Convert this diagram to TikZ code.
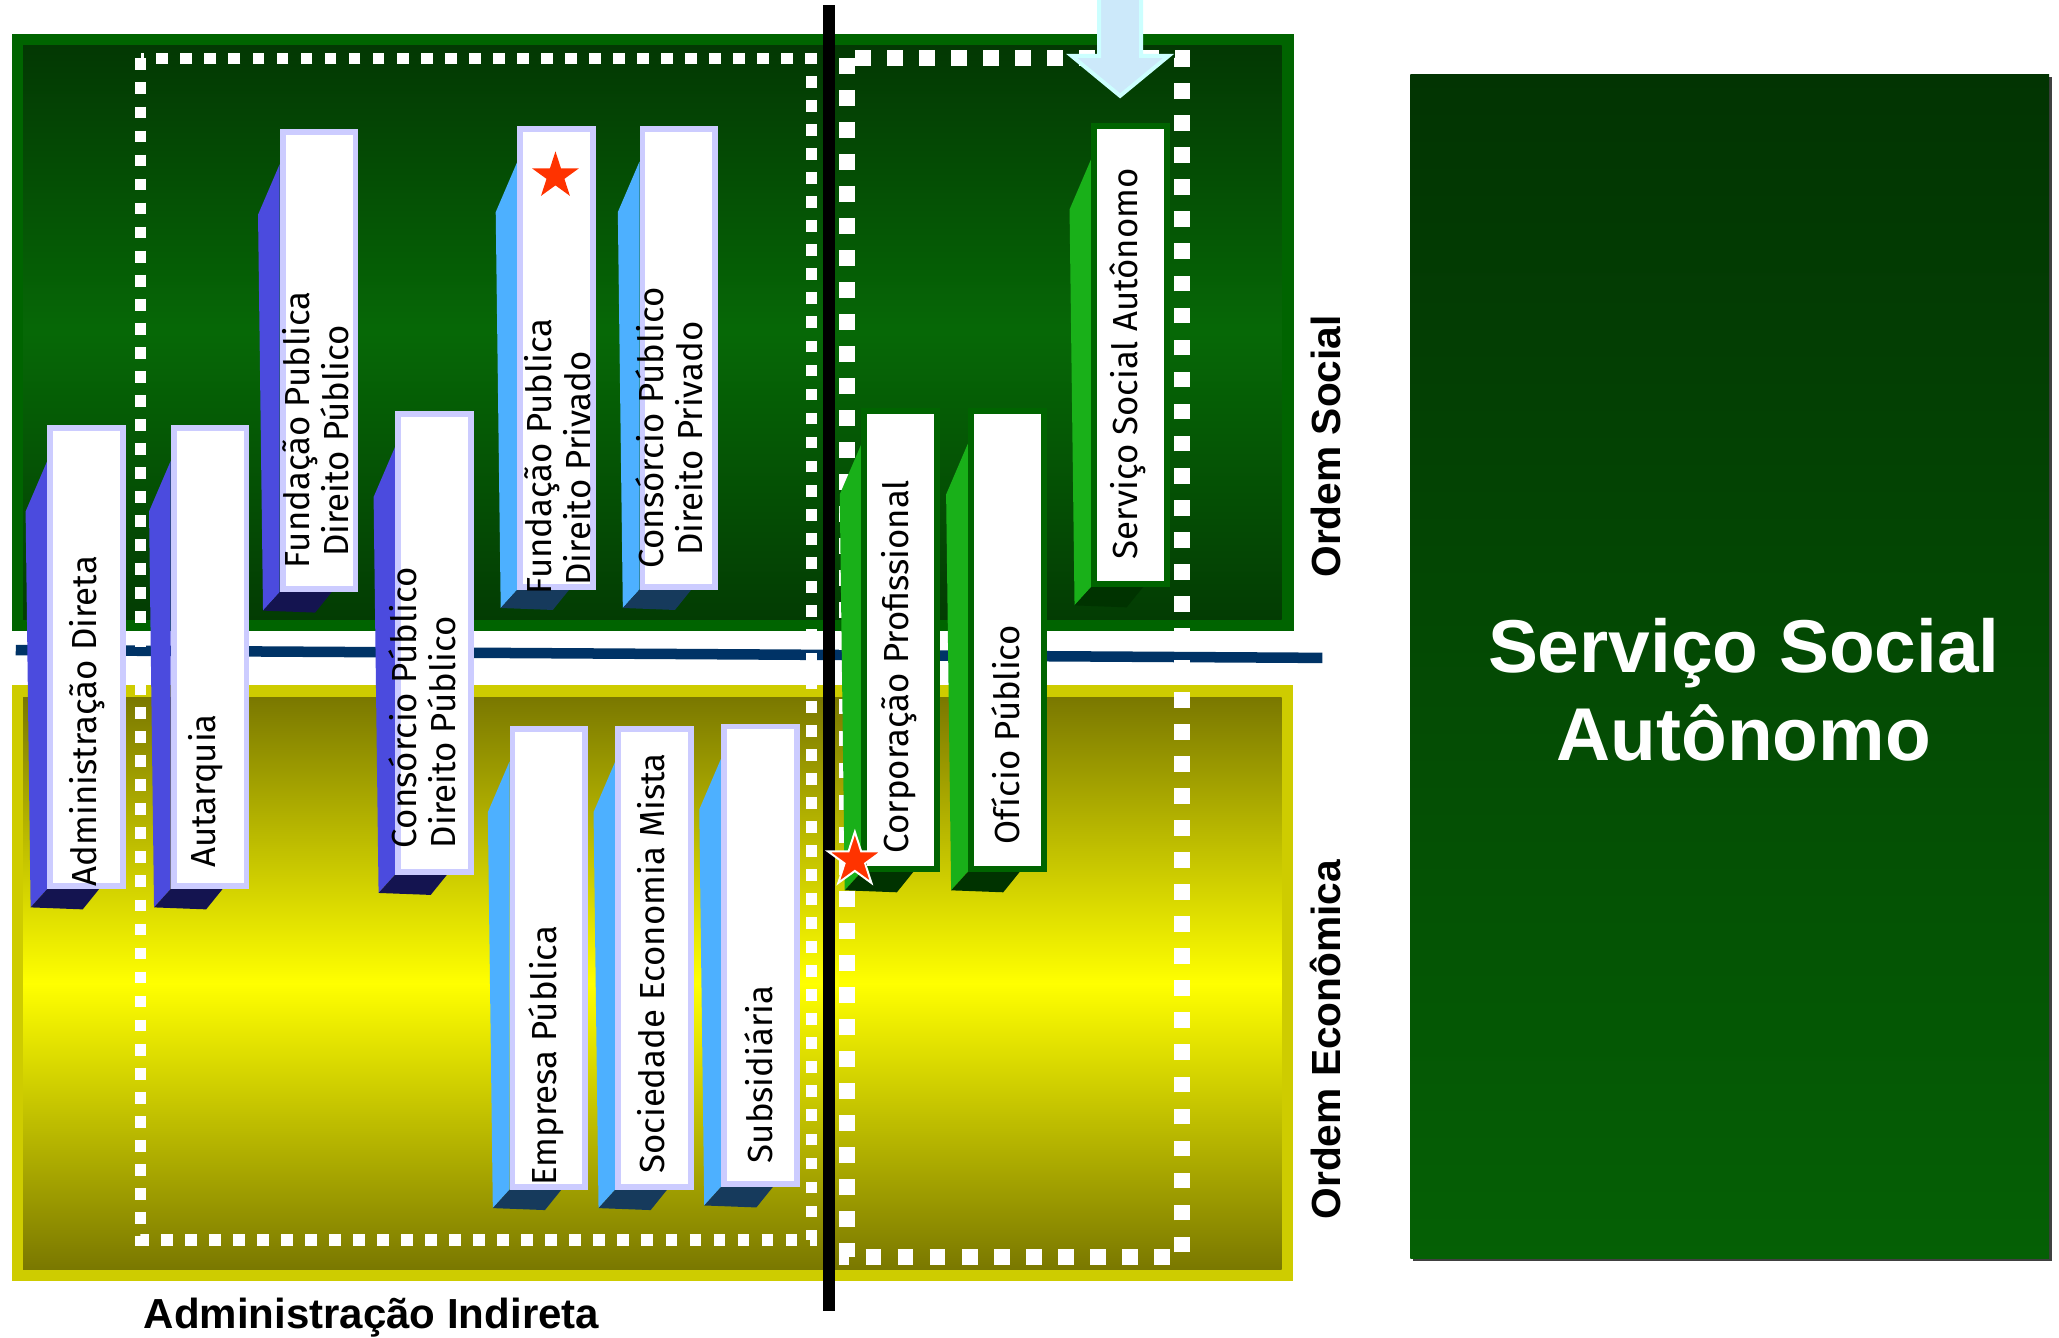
\documentclass[tikz,border=0pt]{standalone}
\usepackage{fontspec}
\usetikzlibrary{shapes.geometric}
\newfontfamily\barfont{Fira Sans}
\newfontfamily\labfont{Liberation Sans}
\definecolor{gborder}{RGB}{0,100,0}
\definecolor{gtop}{RGB}{3,56,3}
\definecolor{gmid}{RGB}{6,104,6}
\definecolor{gbot}{RGB}{3,60,3}
\definecolor{yborder}{RGB}{206,204,0}
\definecolor{yedge}{RGB}{122,120,0}
\definecolor{ymid}{RGB}{255,255,0}
\definecolor{navyline}{RGB}{0,51,102}
\definecolor{lav}{RGB}{204,204,255}
\definecolor{sideblue}{RGB}{75,75,222}
\definecolor{botblue}{RGB}{20,20,80}
\definecolor{sidesky}{RGB}{77,176,255}
\definecolor{botsky}{RGB}{22,58,92}
\definecolor{sidegreen}{RGB}{25,176,25}
\definecolor{botgreen}{RGB}{0,51,0}
\definecolor{starred}{RGB}{255,51,0}
\definecolor{arrowfill}{RGB}{204,233,250}
\definecolor{arrowline}{RGB}{204,255,255}
\definecolor{ssatop}{RGB}{2,52,2}
\definecolor{ssabot}{RGB}{5,96,5}
\tikzset{
  colbox/.style={rectangle, fill=white, line width=4.5, minimum width=55.5, minimum height=348.5, inner sep=0},
  bartext/.style={rotate=90, inner sep=0, anchor=west, align=left, font=\barfont\fontsize{26.5}{29.5}\selectfont},
  ordem/.style={rotate=90, inner sep=0, anchor=base west, font=\labfont\bfseries\fontsize{31}{36}\selectfont},
  redstar/.style={star, star points=5, star point ratio=2.618, fill=starred, inner sep=0},
  dotsmall/.style={white, line width=9, dash pattern=on 9 off 9.3},
  dotlarge/.style={white, line width=12, dash pattern=on 12 off 12.4},
}
% #1 name, #2 left, #3 top, #4 side colour, #5 bottom colour, #6 border colour
\newcommand\colbar[6]{%
  \fill[#4] (#2,#3+27) -- (#2-16.5,#3+65.5) -- (#2-12.7,#3+367) -- (#2,#3+353) -- cycle;
  \fill[#5] (#2-12.7,#3+367) -- (#2,#3+353) -- (#2+39.5,#3+353) -- (#2+27,#3+368.5) -- cycle;
  \node[colbox, draw=#6] (#1) at (#2+30,#3+176.5) {};
}
\begin{document}
\begin{tikzpicture}[x=1pt,y=-1pt]
\useasboundingbox (0,0) rectangle (1568,1018.17);
\fill[white] (0,0) rectangle (1568,1018.17);

% right box
\fill[black!75] (1076,58.4) rectangle (1562.5,960.4);
\shade[top color=ssatop, bottom color=ssabot] (1074,56.4) rectangle (1560.5,958.4);
\node[text=white, align=center, inner sep=0, font=\labfont\bfseries\fontsize{57}{67}\selectfont] (ssa) at (1328,525) {Serviço Social\\Autônomo};

% panels
\fill[gborder] (9,26) rectangle (985.5,480.5);
\shade[top color=gtop, bottom color=gbot, middle color=gmid] (17.7,35) rectangle (976,471.5);
\fill[yborder] (9,521.7) rectangle (985,975.3);
\shade[top color=yedge, bottom color=yedge, middle color=ymid] (17.7,531) rectangle (976,966.4);

% divider line
\coordinate (navyL) at (12,495);
\coordinate (navyR) at (1007,501);
\draw[navyline, line width=8] (navyL) -- (navyR);

% dotted frames
\draw[dotsmall] (107,44.5) rectangle (618,944);
\draw[dotlarge] (645,44) rectangle (900,957);

% arrow
\filldraw[fill=arrowfill, draw=arrowline, line width=3, line join=miter]
  (837,-6) -- (837,42.5) -- (816,42.5) -- (853,73) -- (890,42.5) -- (869,42.5) -- (869,-6) -- cycle;

% columns
\colbar{admdir}{36}{324}{sideblue}{botblue}{lav}
\colbar{autarq}{130}{324}{sideblue}{botblue}{lav}
\colbar{fundpub}{213}{98}{sideblue}{botblue}{lav}
\colbar{conspub}{301}{313}{sideblue}{botblue}{lav}
\colbar{fundpriv}{394}{96}{sidesky}{botsky}{lav}
\colbar{conspriv}{487}{96}{sidesky}{botsky}{lav}
\colbar{empresa}{388}{553}{sidesky}{botsky}{lav}
\colbar{sociedade}{468.5}{553}{sidesky}{botsky}{lav}
\colbar{subsid}{549}{551}{sidesky}{botsky}{lav}
\colbar{corpprof}{656}{311}{sidegreen}{botgreen}{gborder}
\colbar{oficio}{737}{311}{sidegreen}{botgreen}{gborder}
\colbar{servico}{831}{94}{sidegreen}{botgreen}{gborder}

% column texts
\node[bartext] (t-admdir) at (66,675) {Administração Direta};
\node[bartext] (t-autarq) at (156.5,661) {Autarquia};
\node[bartext] (t-fundpub) at (240.5,432.8) {Fundação Publica\\\hspace*{8.5pt}Direito Público};
\node[bartext] (t-conspub) at (321.5,646) {Consórcio Público\\Direito Público};
\node[bartext] (t-fundpriv) at (424.5,453) {Fundação Publica\\\hspace*{7pt}Direito Privado};
\node[bartext] (t-conspriv) at (509.5,433) {Consórcio Público\\\hspace*{9.5pt}Direito Privado};
\node[bartext] (t-empresa) at (416,903) {Empresa Pública};
\node[bartext] (t-sociedade) at (495.5,894) {Sociedade Economia Mista};
\node[bartext] (t-subsid) at (577.5,886) {Subsidiária};
\node[bartext] (t-corpprof) at (685,650) {Corporação Profissional};
\node[bartext] (t-oficio) at (766,643.6) {Ofício Público};
\node[bartext] (t-servico) at (859,426) {Serviço Social Autônomo};

% vertical black line
\coordinate (vtop) at (631.5,4);
\coordinate (vbot) at (631.5,998);
\draw[line width=9] (vtop) -- (vbot);

% stars
\node[redstar, minimum size=37.5] (star1) at (423,134) {};
\node[redstar, draw=white, line width=1.5, minimum size=43] (star2) at (651,655) {};

% labels
\node[ordem] (osocial) at (1021,440) {Ordem Social};
\node[ordem] (oeconomica) at (1021,928.8) {Ordem Econômica};
\node[anchor=base west, inner sep=0, font=\labfont\bfseries\fontsize{32}{38}\selectfont] (adminind) at (109.3,1011.5) {Administração Indireta};
\end{tikzpicture}
\end{document}
